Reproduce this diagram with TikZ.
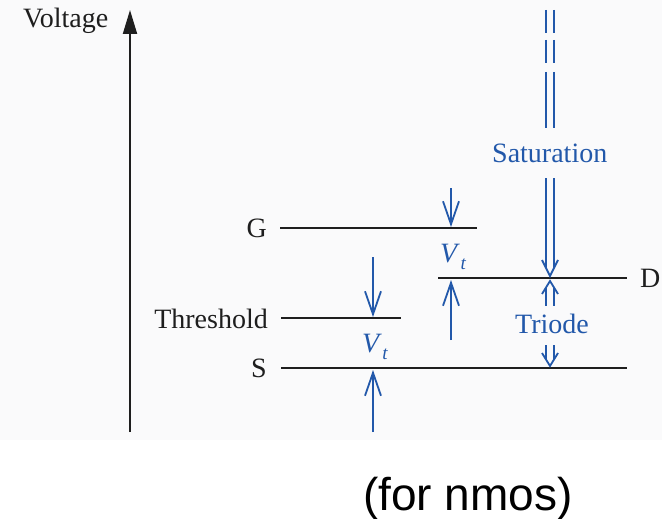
\documentclass[tikz,border=0pt]{standalone}
\usepackage{fontspec}
\setmainfont{Liberation Serif}
\newfontfamily\captionfont{Liberation Sans}
\usetikzlibrary{arrows.meta}
\definecolor{inkblue}{RGB}{34,88,170}
\definecolor{inkblack}{RGB}{30,30,30}
\definecolor{paper}{RGB}{250,250,251}
\tikzset{
  level/.style={draw=inkblack, line width=2pt},
  axisline/.style={draw=inkblack, line width=2pt, -{Triangle[length=24pt,width=14pt]}},
  gap/.style={draw=inkblue, line width=1.8pt, -{Straight Barb[length=23pt,width=16pt,line width=1.8pt]}},
  bl/.style={draw=inkblue, line width=1.8pt},
  lbl/.style={inner sep=0pt, text=inkblack, font=\fontsize{28}{30}\selectfont},
  bluelbl/.style={inner sep=0pt, text=inkblue, font=\fontsize{28}{30}\selectfont},
}
\newcommand{\vtlabel}{\textit{V}\kern0.5pt\raisebox{-0.28em}{\fontsize{19}{20}\selectfont\textit{t}}}
\begin{document}
\begin{tikzpicture}[x=1pt,y=-1pt]
\useasboundingbox (0,0) rectangle (662,519);
\fill[paper] (0,0) rectangle (662,440);

% voltage axis
\coordinate (axb) at (130,432);
\coordinate (axt) at (130,10);
\draw[axisline] (axb) -- (axt);
\node[lbl, anchor=base west] (volt) at (23,28) {Voltage};

% potential levels
\coordinate (g1) at (280,228);  \coordinate (g2) at (477,228);
\coordinate (d1) at (438,278);  \coordinate (d2) at (627,278);
\coordinate (t1) at (281,318);  \coordinate (t2) at (401,318);
\coordinate (s1) at (281,368);  \coordinate (s2) at (627,368);
\draw[level] (g1) -- (g2);
\draw[level] (d1) -- (d2);
\draw[level] (t1) -- (t2);
\draw[level] (s1) -- (s2);

\node[lbl, anchor=base east] (G) at (267,237) {G};
\node[lbl, anchor=base west] (D) at (640,287) {D};
\node[lbl, anchor=base east] (Th) at (268,328) {Threshold};
\node[lbl, anchor=base east] (S) at (267,377) {S};

% V_t gap markers
\coordinate (a1s) at (451,188); \coordinate (a1e) at (451,227);
\coordinate (a2s) at (451,340); \coordinate (a2e) at (451,280);
\coordinate (a3s) at (373,257); \coordinate (a3e) at (373,317);
\coordinate (a4s) at (373,432); \coordinate (a4e) at (373,370);
\draw[gap] (a1s) -- (a1e);
\draw[gap] (a2s) -- (a2e);
\draw[gap] (a3s) -- (a3e);
\draw[gap] (a4s) -- (a4e);
\node[bluelbl, anchor=base west] (vt1) at (440,262) {\vtlabel};
\node[bluelbl, anchor=base west] (vt2) at (362,352) {\vtlabel};

% saturation region: broken double line
\foreach \ya/\yb in {10/33, 40/63, 72/128}{
  \draw[bl] (546,\ya) -- (546,\yb);
  \draw[bl] (554,\ya) -- (554,\yb);
}
\node[bluelbl, anchor=base west] (sat) at (492,162) {Saturation};
\draw[bl] (546,178) -- (546,268);
\draw[bl] (554,178) -- (554,268);
\coordinate (satTip) at (550,276);
\draw[bl, line join=miter] (542,260) -- (satTip) -- (558,260);

% triode region: small double arrows
\coordinate (trTop) at (550,281);
\draw[bl, line join=miter] (542,294) -- (trTop) -- (558,294);
\draw[bl] (546,288) -- (546,306);
\draw[bl] (554,288) -- (554,306);
\node[bluelbl, anchor=base west] (tri) at (515,333) {Triode};
\coordinate (trBot) at (550,366);
\draw[bl] (546,345) -- (546,360);
\draw[bl] (554,345) -- (554,360);
\draw[bl, line join=miter] (542,353) -- (trBot) -- (558,353);

% caption
\node[inner sep=0pt, anchor=base west, font=\captionfont\fontsize{46}{48}\selectfont] (cap) at (363,510) {(for nmos)};
\end{tikzpicture}
\end{document}
